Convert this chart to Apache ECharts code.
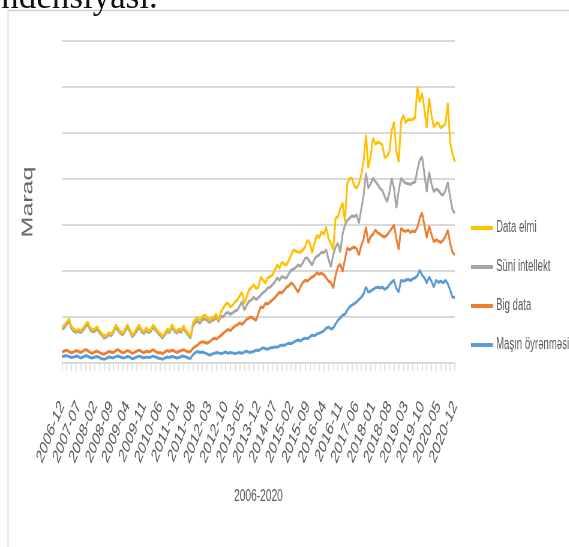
<!DOCTYPE html>
<html>
<head>
<meta charset="utf-8">
<title>Maraq 2006-2020</title>
<script src="https://cdn.jsdelivr.net/npm/echarts@6/dist/echarts.min.js"></script>
<style>
  html, body { margin: 0; padding: 0; background: #fff; overflow: hidden; }
  #wrap { width: 569px; height: 547px; overflow: hidden; position: relative; }
  /* the chart picture in the document is stretched: narrower than it is tall */
  #main { height: 547px; transform-origin: 0 0; }
</style>
</head>
<body>
<div id="wrap"><div id="main"></div></div>
<script>
// ay-ay kateqoriyalar: 2006-12 ... 2020-12
var months = [];
for (var y = 2006; y <= 2020; y++) {
  for (var m = 1; m <= 12; m++) {
    if (y === 2006 && m < 12) continue;
    months.push(y + '-' + (m < 10 ? '0' + m : m));
  }
}

var seriesNames = ['Data elmi', 'Süni intellekt', 'Big data', 'Maşın öyrənməsi'];

// Data elmi
var dataElmi = [7.8,
  8.2, 8.9, 9.6, 8.0, 7.4, 7.1, 7.3, 7.0, 7.6, 8.3, 8.9, 7.7,
  7.2, 7.4, 7.9, 7.0, 6.4, 5.8, 6.0, 6.6, 6.3, 7.1, 8.3, 7.5,
  6.8, 6.5, 7.4, 8.3, 7.3, 6.1, 6.6, 7.5, 8.3, 7.2, 6.8, 7.6,
  7.0, 7.3, 8.3, 7.6, 6.9, 6.4, 5.8, 6.5, 7.4, 7.0, 8.3, 7.4,
  6.9, 7.4, 7.1, 8.1, 7.0, 6.4, 5.8, 8.7, 9.4, 9.8, 9.2, 10.1,
  10.4, 10.0, 9.3, 9.8, 10.0, 10.6, 9.3, 11.2, 12.0, 12.8, 13.0, 12.2,
  12.6, 13.3, 13.7, 14.6, 15.4, 13.0, 14.4, 15.9, 16.4, 17.0, 16.2, 16.5,
  18.7, 18.0, 17.4, 18.5, 18.8, 19.1, 20.2, 21.3, 20.6, 21.9, 21.5, 21.3,
  22.4, 23.5, 24.6, 24.3, 24.1, 24.1, 24.6, 25.2, 26.7, 26.0, 23.9, 26.2,
  27.8, 27.2, 28.5, 28.0, 29.6, 27.0, 26.0, 24.6, 31.5, 31.8, 33.5, 34.8,
  30.7, 39.1, 40.0, 40.2, 38.5, 38.0, 39.0, 40.9, 44.0, 49.6, 42.4, 45.0,
  48.9, 47.5, 48.0, 47.8, 47.4, 44.6, 45.0, 45.9, 50.5, 52.4, 46.0, 43.7,
  52.4, 53.9, 52.2, 53.0, 52.8, 53.0, 53.3, 60.0, 56.7, 58.7, 55.0, 51.1,
  57.6, 54.0, 51.3, 52.0, 52.2, 51.1, 51.5, 52.0, 56.5, 48.0, 45.5, 43.7];

// Süni intellekt
var suniIntellekt = [7.3,
  7.7, 8.4, 9.0, 7.5, 6.9, 6.7, 6.9, 6.6, 7.1, 7.8, 8.4, 7.2,
  6.8, 6.9, 7.4, 6.6, 6.0, 5.4, 5.6, 6.2, 5.9, 6.7, 7.8, 7.0,
  6.4, 6.1, 6.9, 7.8, 6.9, 5.7, 6.2, 7.0, 7.8, 6.8, 6.4, 7.1,
  6.6, 6.9, 7.8, 7.1, 6.5, 6.0, 5.4, 6.1, 6.9, 6.6, 7.8, 6.9,
  6.5, 6.9, 6.7, 7.6, 6.6, 6.0, 5.4, 8.0, 8.8, 9.1, 8.6, 9.4,
  9.6, 9.3, 8.8, 9.2, 9.4, 9.8, 9.0, 10.2, 10.0, 10.8, 11.0, 10.6,
  10.9, 11.3, 11.5, 12.4, 13.3, 11.5, 12.6, 13.4, 13.7, 14.3, 13.8, 14.2,
  14.8, 15.3, 15.7, 16.3, 16.5, 17.0, 17.6, 18.5, 18.0, 18.8, 18.6, 18.5,
  19.4, 20.2, 20.4, 20.8, 21.3, 21.0, 21.8, 22.8, 22.8, 22.0, 21.3, 22.6,
  23.2, 23.5, 24.1, 24.0, 24.6, 22.5, 20.9, 23.5, 25.2, 26.0, 24.1, 28.0,
  30.0, 31.0, 31.5, 32.0, 31.8, 32.2, 30.4, 33.5, 36.5, 41.3, 38.0, 39.0,
  40.2, 39.5, 38.8, 38.0, 37.5, 36.2, 35.0, 37.0, 40.2, 38.0, 33.7, 37.5,
  40.2, 39.5, 39.1, 39.0, 38.8, 39.2, 39.3, 42.0, 44.1, 44.8, 41.0, 37.2,
  41.5, 39.0, 37.2, 37.8, 37.5, 36.8, 36.5, 37.5, 39.3, 36.0, 33.3, 32.6];

// Big data
var bigData = [2.4,
  2.6, 2.8, 2.5, 2.2, 2.4, 2.7, 2.5, 2.3, 2.6, 2.9, 2.7, 2.3,
  2.1, 2.4, 2.6, 2.3, 2.0, 1.9, 2.2, 2.5, 2.4, 2.2, 2.7, 2.9,
  2.5, 2.2, 2.4, 2.7, 2.5, 2.1, 2.3, 2.6, 2.8, 2.5, 2.2, 2.6,
  2.4, 2.6, 2.9, 2.5, 2.2, 2.3, 2.0, 2.4, 2.7, 2.5, 2.8, 2.6,
  2.3, 2.5, 2.7, 2.9, 2.6, 2.4, 2.5, 3.2, 3.6, 3.9, 4.4, 4.6,
  4.5, 4.3, 4.6, 5.0, 5.4, 5.2, 5.6, 6.0, 6.5, 6.9, 7.3, 7.0,
  7.6, 8.0, 8.3, 8.7, 8.4, 8.9, 9.5, 9.8, 10.0, 9.6, 9.3, 10.8,
  12.2, 12.0, 13.0, 12.8, 13.3, 13.7, 14.2, 14.8, 15.4, 15.2, 15.8, 16.5,
  16.8, 17.4, 17.0, 16.2, 15.4, 16.6, 17.5, 18.0, 17.8, 18.3, 18.7, 19.0,
  19.6, 19.3, 19.5, 19.2, 18.5, 17.8, 17.5, 16.3, 19.0, 20.9, 21.5, 19.9,
  22.5, 25.0, 24.6, 25.0, 25.2, 24.8, 23.5, 25.5, 27.0, 29.6, 26.1, 27.5,
  28.0, 28.9, 28.3, 28.0, 27.6, 27.4, 27.8, 28.5, 29.2, 30.0, 27.0, 24.6,
  29.3, 28.8, 28.6, 28.9, 28.4, 28.7, 28.5, 29.5, 31.5, 32.6, 30.0, 27.2,
  29.8, 28.0, 26.3, 26.8, 26.5, 26.2, 26.7, 27.5, 28.9, 26.0, 24.1, 23.5];

// Maşın öyrənməsi
var masinOyrenmesi = [1.4,
  1.5, 1.6, 1.4, 1.2, 1.3, 1.5, 1.4, 1.1, 1.3, 1.6, 1.5, 1.2,
  1.1, 1.3, 1.4, 1.2, 0.9, 0.8, 1.0, 1.3, 1.2, 1.1, 1.4, 1.5,
  1.3, 1.1, 1.2, 1.4, 1.3, 0.9, 1.1, 1.3, 1.5, 1.3, 1.1, 1.3,
  1.2, 1.3, 1.5, 1.3, 1.1, 1.0, 0.8, 1.1, 1.3, 1.2, 1.4, 1.3,
  1.1, 1.2, 1.4, 1.5, 1.3, 1.1, 1.0, 1.8, 2.3, 2.5, 2.3, 2.4,
  2.2, 2.0, 1.7, 1.9, 2.1, 2.3, 2.2, 2.0, 2.2, 2.4, 2.1, 2.3,
  2.2, 2.0, 2.2, 2.3, 2.1, 2.4, 2.6, 2.3, 2.4, 2.5, 2.8, 2.7,
  3.0, 3.3, 3.1, 3.0, 3.3, 3.3, 3.5, 3.4, 3.7, 3.9, 3.8, 4.1,
  4.3, 4.2, 4.5, 4.8, 5.0, 4.8, 5.2, 5.4, 5.3, 5.7, 6.1, 5.9,
  6.3, 6.5, 6.7, 7.0, 7.6, 7.8, 7.4, 7.6, 8.5, 9.3, 9.8, 10.4,
  10.6, 11.5, 12.2, 12.6, 12.9, 13.3, 13.8, 14.3, 15.0, 16.5, 15.4, 15.6,
  16.0, 16.3, 16.5, 16.3, 16.5, 16.0, 16.3, 17.0, 17.6, 18.0, 16.2, 15.4,
  18.0, 17.8, 18.0, 18.2, 17.9, 18.3, 18.5, 19.0, 20.2, 19.1, 18.5, 17.4,
  18.7, 17.8, 16.5, 18.0, 17.5, 17.8, 17.4, 18.0, 17.2, 15.9, 14.3, 14.3];

// horizontal squeeze of the pasted chart picture
var SX = 0.6;
function px(x) { return x / SX; }   // screen x -> chart x

var FONT = '"Liberation Sans", Arial, sans-serif';
var textGray = '#595959';
var gridGray = '#d9d9d9';

var mainEl = document.getElementById('main');
mainEl.style.width = Math.round(px(569)) + 'px';
mainEl.style.transform = 'scaleX(' + SX + ')';

function lineSeries(name, data, color) {
  return {
    name: name,
    type: 'line',
    data: data,
    color: color,
    showSymbol: false,
    symbol: 'none',
    lineStyle: { width: 3, color: color },
    emphasis: { disabled: true }
  };
}

var myChart = echarts.init(mainEl);

var option = {
  animation: false,
  backgroundColor: '#fff',
  graphic: [
    // diaqram çərçivəsi
    {
      type: 'rect', silent: true, z: -1,
      shape: { x: px(8), y: 10.5, width: px(800), height: 700 },
      style: { fill: 'none', stroke: '#d0d0d0', lineWidth: 1.6 }
    },
    // yuxarıda kəsilmiş sənəd mətni (sıxılmayıb)
    {
      type: 'text', silent: true,
      x: px(-24), y: 16,
      scaleX: 1 / SX,
      style: {
        text: 'tendensiyası.',
        font: '35px "Liberation Serif", "DejaVu Serif", serif',
        fill: '#111',
        verticalAlign: 'bottom'
      }
    }
  ],
  grid: { left: px(62), right: px(569 - 455), top: 41, bottom: 184 },
  legend: {
    orient: 'vertical',
    left: px(468),
    top: 215,
    icon: 'rect',
    itemWidth: px(22),
    itemHeight: 4,
    itemGap: 23,
    data: seriesNames,
    textStyle: { color: textGray, fontSize: 16, fontFamily: FONT, lineHeight: 16 }
  },
  xAxis: {
    type: 'category',
    data: months,
    boundaryGap: false,
    name: '2006-2020',
    nameLocation: 'middle',
    nameGap: 125,
    nameTextStyle: { color: textGray, fontSize: 17, fontFamily: FONT },
    axisLine: { lineStyle: { color: gridGray, width: 2 } },
    axisTick: { show: true, interval: 1, length: 8, lineStyle: { color: gridGray, width: 1.5 } },
    axisLabel: {
      interval: 6,
      rotate: 57,
      margin: 40,
      color: textGray,
      fontSize: 19,
      fontFamily: FONT
    },
    splitLine: { show: false }
  },
  yAxis: {
    type: 'value',
    min: 0,
    max: 70,
    interval: 10,
    name: 'Maraq',
    nameLocation: 'middle',
    nameGap: 44,
    nameTextStyle: { color: '#666', fontSize: 25, fontFamily: FONT },
    axisLabel: { show: false },
    axisLine: { show: false },
    axisTick: { show: false },
    splitLine: { lineStyle: { color: gridGray, width: 2 } }
  },
  series: [
    lineSeries(seriesNames[3], masinOyrenmesi, '#5B9BD5'),
    lineSeries(seriesNames[2], bigData, '#ED7D31'),
    lineSeries(seriesNames[1], suniIntellekt, '#A5A5A5'),
    lineSeries(seriesNames[0], dataElmi, '#FFC000')
  ]
};

myChart.setOption(option);
</script>
</body>
</html>
